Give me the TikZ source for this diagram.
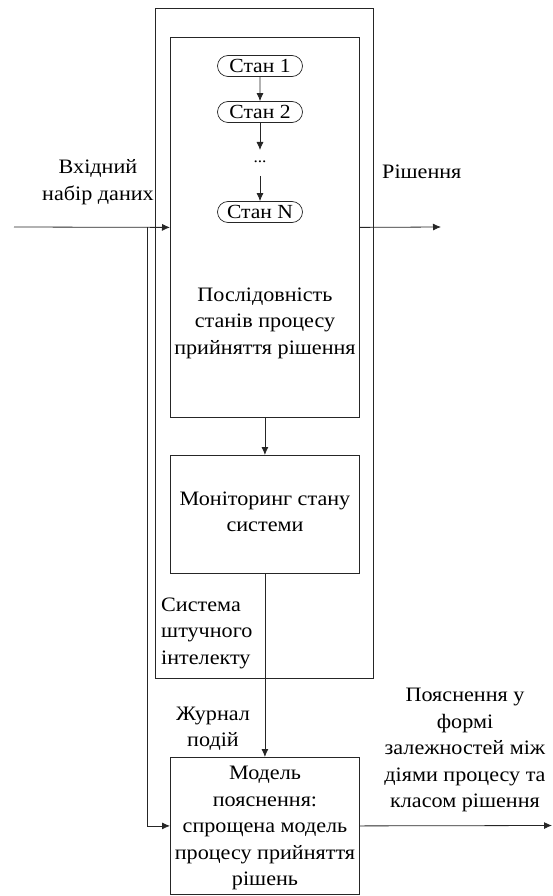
\documentclass[tikz,border=0pt]{standalone}
\usepackage{fontspec}
\setmainfont[FakeStretch=1.08]{Liberation Serif}
\usetikzlibrary{arrows.meta,shapes.misc}
\begin{document}
\begin{tikzpicture}[x=1pt,y=-1pt,
  box/.style={draw=black!85, line width=0.8pt, anchor=north west, inner sep=0pt},
  pill/.style={draw=black!85, line width=0.7pt, rounded rectangle, minimum width=85pt, minimum height=21pt, inner sep=0pt, font=\fontsize{20}{22}\selectfont},
  txt/.style={align=center, font=\fontsize{20.5}{26.5}\selectfont, inner sep=0pt},
  conn/.style={draw=black!85, line width=0.8pt},
  arr/.style={conn, -{Latex[length=8pt,width=7pt]}}]
\useasboundingbox (0,0) rectangle (553,896);
% boxes
\node[box, minimum width=218pt, minimum height=670pt] (ai) at (155,8) {};
\node[box, minimum width=189pt, minimum height=380pt] (seq) at (170,37) {};
\node[box, minimum width=189pt, minimum height=118pt] (mon) at (170,455) {};
\node[box, minimum width=189pt, minimum height=137pt] (model) at (170,757) {};
% states
\node[pill] (s1) at (260,66) {Стан 1};
\node[pill] (s2) at (260,112) {Стан 2};
\node[txt, font=\fontsize{16}{20}\selectfont] (dots) at (260,162) {...};
\node[pill] (sn) at (260,212) {Стан N};
\draw[arr] (s1) -- (s2);
\draw[arr] (s2.south) -- (260,150);
\draw[arr] (260,176) -- (sn.north);
% box texts
\node[txt] (seqt) at (265,323) {Послідовність\\станів процесу\\прийняття рішення};
\node[txt] (mont) at (265,512) {Моніторинг стану\\системи};
\node[txt] (modelt) at (265,828) {Модель\\пояснення:\\спрощена модель\\процесу прийняття\\рішень};
% labels
\node[txt] (inl) at (98,182) {Вхідний\\набір даних};
\node[txt, anchor=west] (outl) at (382,172) {Рішення};
\node[txt, align=left, anchor=west] (ail) at (161,633) {Система\\штучного\\інтелекту};
\node[txt] (logl) at (213,729) {Журнал\\подій};
\node[txt] (expl) at (465,750) {Пояснення у\\формі\\залежностей між\\діями процесу та\\класом рішення};
% connectors
\coordinate (in) at (14,227);
\coordinate (br) at (147,227);
\coordinate (out) at (441,227);
\coordinate (expout) at (552,825.5);
\draw[arr] (in) -- (seq.west);
\draw[arr] (br) |- (model.west);
\draw[arr] (seq.east) -- (out);
\draw[arr] (seq.south) -- (mon.north);
\draw[arr] (mon.south) -- (model.north);
\draw[arr] (model.east) -- (expout);
\end{tikzpicture}
\end{document}
